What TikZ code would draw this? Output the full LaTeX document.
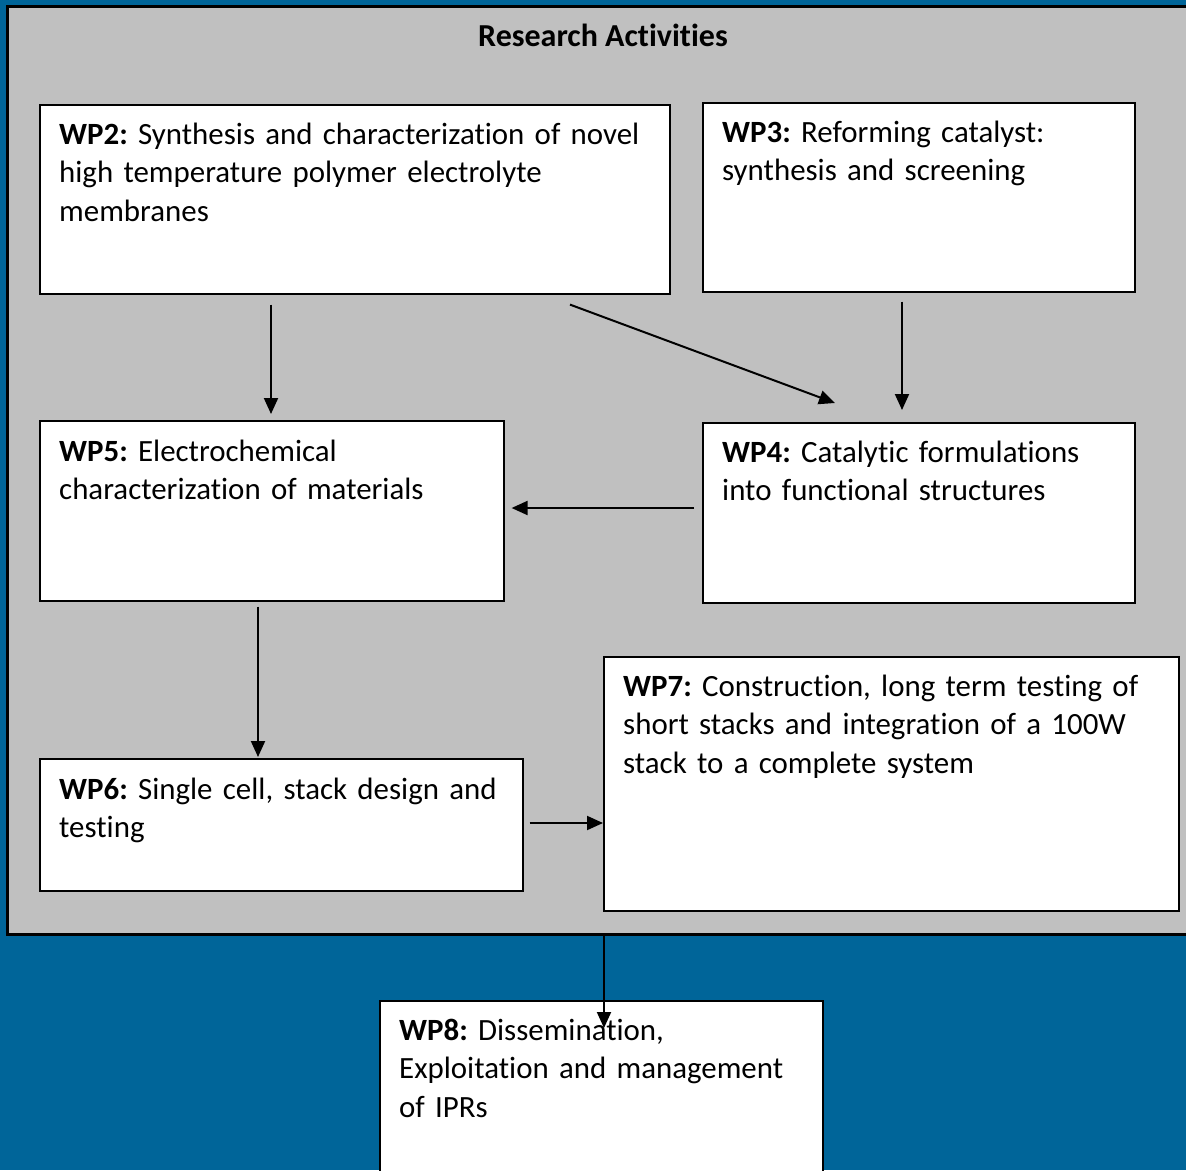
\documentclass[tikz,border=0pt]{standalone}
\usepackage{fontspec}
\setmainfont{Carlito}[Ligatures=NoCommon]
\usetikzlibrary{arrows.meta,calc}
\definecolor{bgblue}{RGB}{0,101,153}
\definecolor{panelgray}{RGB}{192,192,192}
\frenchspacing
\tikzset{
  wpbox/.style={draw=black, line width=1.6pt, fill=white, inner sep=0pt, anchor=north west},
  wptext/.style={anchor=base west, inner sep=0pt, align=left, text width=#1,
     font=\fontsize{30.9}{38.6}\selectfont},
  arr/.style={line width=2pt, -{Triangle[length=16pt,width=14pt]}},
}
\begin{document}
\begin{tikzpicture}[x=1pt,y=-1pt]
\useasboundingbox (0,0) rectangle (1186,1170);
\fill[bgblue] (0,0) rectangle (1186,1170);
\node[draw=black, line width=2.5pt, fill=panelgray, inner sep=0pt, anchor=north west,
      minimum width=1190pt, minimum height=928pt] (panel) at (6,5) {};
\node[font=\bfseries\fontsize{32}{38}\selectfont, inner sep=0pt] (title) at (603,35) {Research Activities};

\node[wpbox, minimum width=630pt, minimum height=189pt] (wp2) at (39,104) {};
\node[wpbox, minimum width=432pt, minimum height=189pt] (wp3) at (702,102) {};
\node[wpbox, minimum width=464pt, minimum height=180pt] (wp5) at (39,420) {};
\node[wpbox, minimum width=432pt, minimum height=180pt] (wp4) at (702,422) {};
\node[wpbox, minimum width=483pt, minimum height=132pt] (wp6) at (39,758) {};
\node[wpbox, minimum width=575pt, minimum height=254pt] (wp7) at (603,656) {};
\node[wpbox, minimum width=443pt, minimum height=200pt] (wp8) at (379,1000) {};

\node[wptext=620pt] (t2) at ($(wp2.north west)+(20,40)$) {\textbf{WP2:} Synthesis and characterization of novel\\high temperature polymer electrolyte\\membranes};
\node[wptext=420pt] (t3) at ($(wp3.north west)+(20,40)$) {\textbf{WP3:} Reforming catalyst:\\synthesis and screening};
\node[wptext=440pt] (t5) at ($(wp5.north west)+(20,41)$) {\textbf{WP5:} Electrochemical\\characterization of materials};
\node[wptext=420pt] (t4) at ($(wp4.north west)+(20,40)$) {\textbf{WP4:} Catalytic formulations\\into functional structures};
\node[wptext=470pt] (t6) at ($(wp6.north west)+(20,41)$) {\textbf{WP6:} Single cell, stack design and\\testing};
\node[wptext=560pt] (t7) at ($(wp7.north west)+(20,40)$) {\textbf{WP7:} Construction, long term testing of\\short stacks and integration of a 100W\\stack to a complete system};
\node[wptext=430pt] (t8) at ($(wp8.north west)+(20,40)$) {\textbf{WP8:} Dissemination,\\Exploitation and management\\of IPRs};

\draw[arr] ($(wp2.south west)+(232,10)$) -- ($(wp5.north west)+(232,-6)$);
\draw[arr] ($(wp2.south west)+(531,10)$) -- ($(wp4.north west)+(133,-19)$);
\draw[arr] ($(wp3.south west)+(200,9)$) -- ($(wp4.north west)+(200,-12)$);
\draw[arr] ($(wp4.north west)+(-8,86)$) -- ($(wp5.north east)+(7,88)$);
\draw[arr] ($(wp5.south west)+(219,5)$) -- ($(wp6.north west)+(219,-1)$);
\draw[arr] ($(wp6.north east)+(6,65)$) -- ($(wp7.north west)+(0,167)$);
\draw[arr] ($(panel.south west)+(598,0)$) -- ($(wp8.north west)+(225,28)$);
\end{tikzpicture}
\end{document}
